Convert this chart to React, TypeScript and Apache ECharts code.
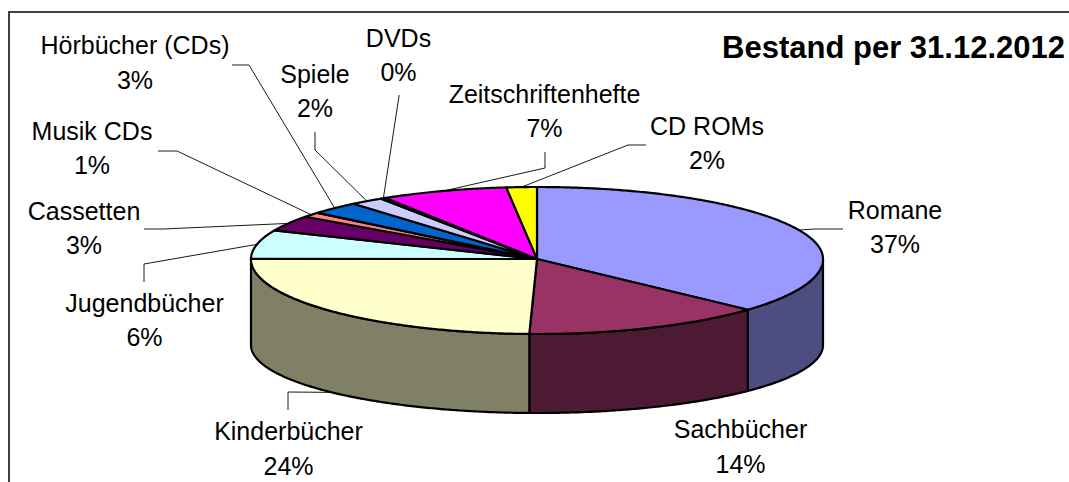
import React, { useEffect, useRef } from "react";
import * as echarts from "echarts";

// ---- data ----
const categories = [
  "Romane",
  "Sachbücher",
  "Kinderbücher",
  "Jugendbücher",
  "Cassetten",
  "Musik CDs",
  "Hörbücher (CDs)",
  "Spiele",
  "DVDs",
  "Zeitschriftenhefte",
  "CD ROMs",
];
const shares = [36.5, 13.5, 24.4, 6.4, 3.45, 1.1, 2.8, 1.9, 0.3, 7.1, 1.7];
const sliceColors = [
  "#9999FF",
  "#993366",
  "#FFFFCC",
  "#CCFFFF",
  "#660066",
  "#FF8080",
  "#0066CC",
  "#CCCCFF",
  "#000080",
  "#FF00FF",
  "#FFFF00",
];
const chartTitle = "Bestand per 31.12.2012";

// ---- layout (positions, not data) ----
const PIE = {
  cx: 537,
  cy: 259,
  rx: 286,
  ryBack: 72,
  ryFront: 75,
  cyBottom: 345,
  ryBottom: 68,
};
const FONT = '"Liberation Sans", Arial, Helvetica, sans-serif';
const LABEL_LAYOUT: { x: number; y: number; leader: number[][] | null }[] = [
  { x: 895, y: 227, leader: [[843, 229], [815, 229]] },
  { x: 740.5, y: 446.5, leader: null },
  { x: 288.5, y: 448.5, leader: [[288, 410], [288, 392]] },
  { x: 144.5, y: 320, leader: [[144, 282], [144, 264]] },
  { x: 84, y: 228, leader: [[144, 229], [163, 229]] },
  { x: 92, y: 148, leader: [[158, 151], [177, 151]] },
  { x: 135, y: 62.5, leader: [[232, 65], [249, 65]] },
  { x: 315, y: 91, leader: [[315, 132], [315, 150]] },
  { x: 398.5, y: 55, leader: [[399, 95], [399, 96]] },
  { x: 544.5, y: 111, leader: [[545, 152], [545, 168]] },
  { x: 707, y: 143, leader: [[646, 145], [628, 145]] },
];

function darken(hex: string, f: number) {
  const n = parseInt(hex.slice(1), 16);
  const r = Math.round(((n >> 16) & 255) * f);
  const g = Math.round(((n >> 8) & 255) * f);
  const b = Math.round((n & 255) * f);
  return `rgb(${r},${g},${b})`;
}

function topPt(a: number): number[] {
  const s = Math.sin(a);
  return [PIE.cx + PIE.rx * Math.cos(a), PIE.cy + (s < 0 ? PIE.ryBack : PIE.ryFront) * s];
}
function botPt(a: number): number[] {
  return [PIE.cx + PIE.rx * Math.cos(a), PIE.cyBottom + PIE.ryBottom * Math.sin(a)];
}
function arc(a0: number, a1: number, fn: (a: number) => number[]) {
  const n = Math.max(2, Math.ceil(Math.abs(a1 - a0) / (Math.PI / 360)) + 1);
  const pts: number[][] = [];
  for (let k = 0; k < n; k++) pts.push(fn(a0 + ((a1 - a0) * k) / (n - 1)));
  return pts;
}

export default function App() {
  const ref = useRef<HTMLDivElement>(null);

  useEffect(() => {
    if (!ref.current) return;
    const chart = echarts.init(ref.current, undefined, { renderer: "svg" });

    const total = shares.reduce((s, v) => s + v, 0);
    const cum: number[] = [];
    shares.reduce((acc, v, i) => {
      cum[i] = acc;
      return acc + v;
    }, 0);

    const data = shares.map((v, i) => ({
      name: categories[i],
      value: [v, cum[i]],
      itemStyle: { color: sliceColors[i] },
    }));

    const renderItem = (params: any, api: any) => {
      const i = params.dataIndex;
      const v = api.value(0);
      const c = api.value(1);
      const start = -Math.PI / 2 + (c / total) * Math.PI * 2;
      const end = start + (v / total) * Math.PI * 2;
      const mid = (start + end) / 2;
      const color = sliceColors[i];
      const children: any[] = [];

      const s = Math.max(start, 0);
      const e = Math.min(end, Math.PI);
      if (e > s) {
        children.push({
          type: "polygon",
          z2: 1,
          shape: { points: [...arc(s, e, topPt), ...arc(e, s, botPt)] },
          style: { fill: darken(color, 0.5), stroke: "#000", lineWidth: 2.2, lineJoin: "round" },
        });
      }
      children.push({
        type: "polygon",
        z2: 2,
        shape: { points: [[PIE.cx, PIE.cy], ...arc(start, end, topPt)] },
        style: { fill: color, stroke: "#000", lineWidth: 2.2, lineJoin: "round" },
      });

      const lay = LABEL_LAYOUT[i];
      if (lay.leader) {
        const rim = Math.sin(mid) > 0 ? botPt(mid) : topPt(mid);
        children.push({
          type: "polyline",
          z2: 0,
          shape: { points: [...lay.leader, rim] },
          style: { stroke: "#1a1a1a", lineWidth: 1, fill: null },
        });
      }
      children.push({
        type: "text",
        z2: 5,
        x: lay.x,
        y: lay.y,
        style: {
          text: `${categories[i]}\n${Math.round(v)}%`,
          fill: "#000",
          fontSize: 25,
          fontFamily: FONT,
          align: "center",
          verticalAlign: "middle",
          lineHeight: 34.5,
        },
      });
      return { type: "group", children };
    };

    chart.setOption({
      animation: false,
      backgroundColor: "#ffffff",
      title: {
        text: chartTitle,
        right: 4,
        top: 32,
        padding: 0,
        textStyle: { fontSize: 31, fontWeight: "bold", fontFamily: FONT, color: "#000" },
      },
      graphic: [
        {
          type: "rect",
          shape: { x: 9, y: 12, width: 1100, height: 520 },
          style: { fill: "none", stroke: "#404040", lineWidth: 2 },
          silent: true,
        },
      ],
      series: [
        {
          type: "custom",
          coordinateSystem: "none",
          silent: true,
          renderItem,
          data,
        },
      ],
    });

    return () => chart.dispose();
  }, []);

  return (
    <div
      ref={ref}
      style={{ position: "fixed", left: 0, top: 0, width: 1069, height: 482, background: "#fff" }}
    />
  );
}
